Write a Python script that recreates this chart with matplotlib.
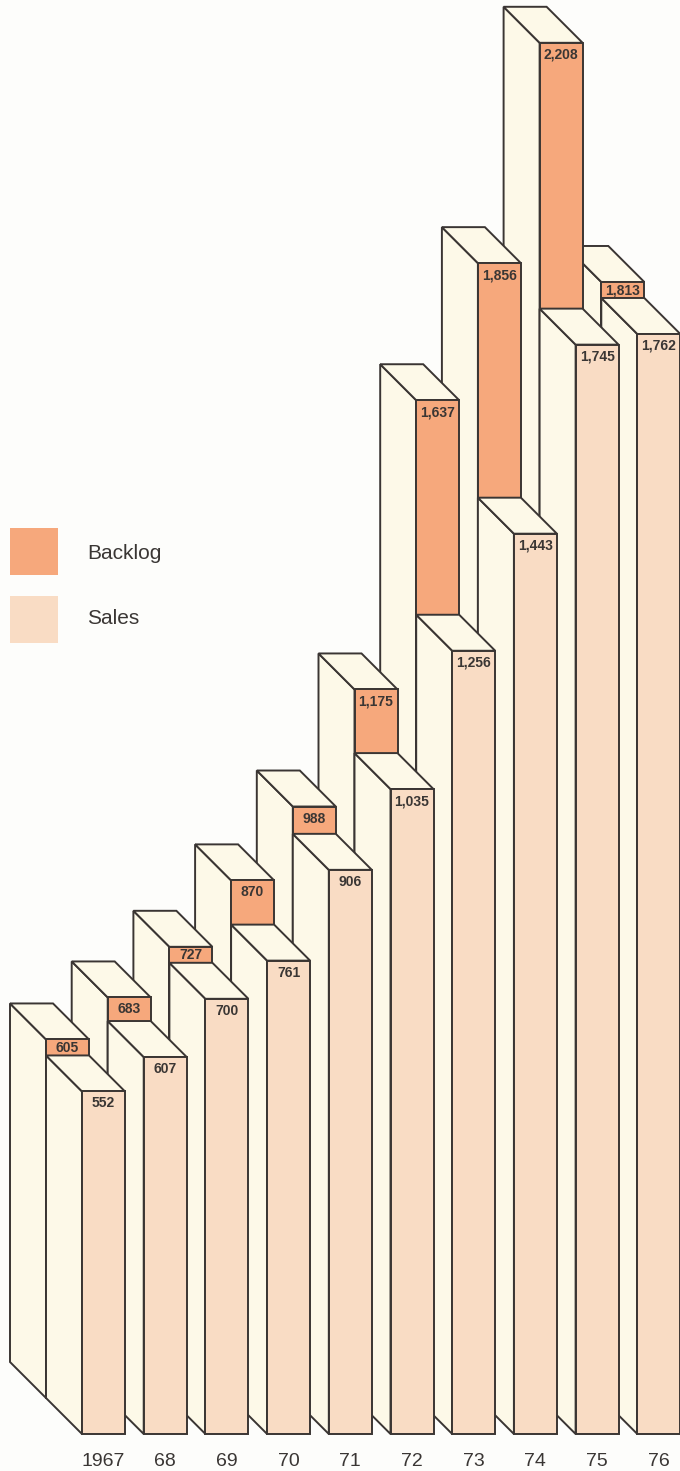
import matplotlib
matplotlib.use('Agg')
import matplotlib.pyplot as plt
from matplotlib.patches import Polygon, Rectangle

plt.rcParams['font.family'] = ['Liberation Sans', 'DejaVu Sans']

# Sales and backlog, 1967-76
years = ['1967', '68', '69', '70', '71', '72', '73', '74', '75', '76']
sales = [552, 607, 700, 761, 906, 1035, 1256, 1443, 1745, 1762]
backlog = [605, 683, 727, 870, 988, 1175, 1637, 1856, 2208, 1813]

ORANGE = '#f6a87c'
PEACH = '#f9dcc4'
CREAM = '#fdf9e8'
EDGE = '#3a3533'
TEXT = '#3a3634'

W, H = 680, 1471
fig = plt.figure(figsize=(W / 100, H / 100), dpi=100)
fig.patch.set_facecolor('#fdfdfb')
ax = fig.add_axes([0, 0, 1, 1])
ax.set_xlim(0, W)
ax.set_ylim(H, 0)
ax.axis('off')

# layout of the blocks (pixels)
x0 = 82          # left edge of first front face
step = 61.7      # distance between years
bw = 43          # face width
d = 36           # depth offset (up and to the left)
floor = 1434     # bottom of the front row
scale = 0.626    # px per unit
base_s = 1437
base_b = 1425
min_tab = 16     # smallest visible strip of backlog

z = [1]


def block(left, top, bottom, front_color):
    side = [(left - d, top - d), (left, top), (left, bottom), (left - d, bottom - d)]
    lid = [(left - d, top - d), (left - d + bw, top - d), (left + bw, top), (left, top)]
    face = [(left, top), (left + bw, top), (left + bw, bottom), (left, bottom)]
    for pts, col in ((side, CREAM), (lid, CREAM), (face, front_color)):
        ax.add_patch(Polygon(pts, closed=True, facecolor=col, edgecolor=EDGE,
                             lw=1.4, joinstyle='miter', zorder=z[0]))
        z[0] += 1


n = len(years)
lefts = [x0 + i * step for i in range(n)]
tops_s = [base_s - scale * v for v in sales]
tops_b = [min(base_b - scale * b, ts - d - min_tab) for b, ts in zip(backlog, tops_s)]

# back row first, right to left
for i in reversed(range(n)):
    left = lefts[i] - d
    block(left, tops_b[i], floor - d, ORANGE)
    tab = (tops_s[i] - d) - tops_b[i]
    ly = tops_b[i] + min(12, tab / 2 + 0.5)
    ax.text(left + bw / 2, ly, f'{backlog[i]:,}', ha='center', va='center',
            fontsize=10, fontweight='bold', color=TEXT, zorder=z[0])
    z[0] += 1

# front row
for i in reversed(range(n)):
    block(lefts[i], tops_s[i], floor, PEACH)
    ax.text(lefts[i] + bw / 2, tops_s[i] + 12, f'{sales[i]:,}', ha='center', va='center',
            fontsize=10, fontweight='bold', color=TEXT, zorder=z[0])
    z[0] += 1

for i, y in enumerate(years):
    ax.text(lefts[i] + bw / 2, 1461, y, ha='center', va='center', fontsize=14, color=TEXT)

# legend
ax.add_patch(Rectangle((10, 528), 48, 47, facecolor=ORANGE, edgecolor='none'))
ax.add_patch(Rectangle((10, 596), 48, 47, facecolor=PEACH, edgecolor='none'))
ax.text(87, 553, 'Backlog', ha='left', va='center', fontsize=15, color=TEXT)
ax.text(87, 618, 'Sales', ha='left', va='center', fontsize=15, color=TEXT)

fig.savefig('out.png', dpi=100, facecolor=fig.get_facecolor())
